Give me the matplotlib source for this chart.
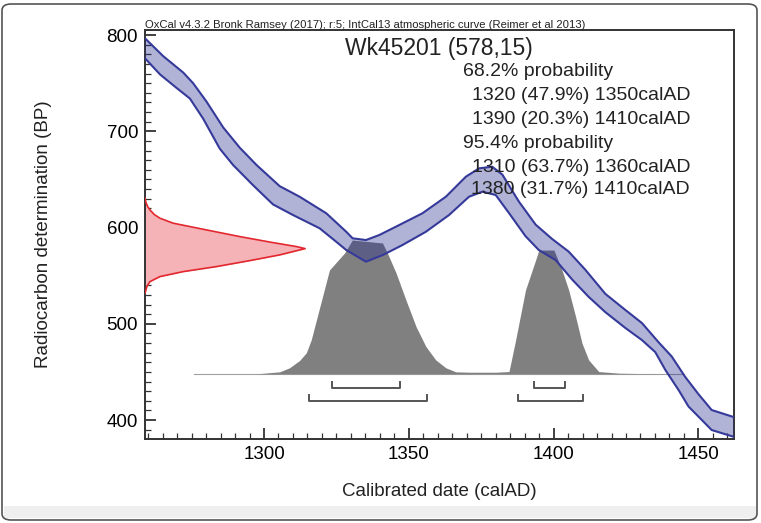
import matplotlib.pyplot as plt
from matplotlib.patches import FancyBboxPatch, Rectangle
from matplotlib.ticker import MultipleLocator

plt.rcParams['font.family'] = ['Liberation Sans', 'DejaVu Sans']

# --- data ---

# IntCal13 band, upper edge (calAD, BP)
curve_hi_yr = [1258.9, 1265.2, 1272.1, 1275.5, 1280.1, 1285.9, 1291.6, 1297.4, 1305.4, 1312.3,
               1321.5, 1328.4, 1330.6, 1335.2, 1339.8, 1346.7, 1354.7, 1362.8, 1369.7, 1374.3,
               1378.8, 1382.3, 1388.0, 1393.8, 1399.5, 1405.2, 1411.0, 1417.9, 1424.8, 1430.5,
               1436.2, 1440.8, 1445.4, 1450.0, 1454.6, 1462.3]
curve_hi_bp = [796.6, 778.0, 761.0, 750.0, 731.0, 704.0, 683.0, 665.0, 643.0, 632.0,
               614.8, 595.6, 588.8, 587.0, 592.2, 602.6, 614.8, 632.0, 652.8, 661.5,
               663.2, 655.0, 627.0, 603.0, 588.1, 575.0, 556.0, 531.0, 514.3, 500.8,
               481.0, 466.0, 445.0, 427.0, 410.4, 403.0]

# IntCal13 band, lower edge
curve_lo_yr = [1258.9, 1264.1, 1269.8, 1274.4, 1279.0, 1284.7, 1289.3, 1296.2, 1303.1, 1310.0,
               1319.2, 1324.9, 1328.4, 1335.2, 1341.0, 1347.8, 1355.9, 1363.9, 1370.8, 1375.4,
               1380.0, 1384.6, 1390.3, 1394.9, 1400.7, 1406.4, 1412.1, 1417.9, 1424.8, 1430.5,
               1435.1, 1438.6, 1443.2, 1446.6, 1451.2, 1454.6, 1462.3]
curve_lo_bp = [775.8, 759.0, 745.0, 734.0, 713.0, 682.0, 665.0, 644.0, 624.0, 613.0,
               599.2, 585.3, 576.6, 564.5, 571.4, 581.8, 595.6, 613.0, 632.0, 637.2,
               633.8, 615.0, 591.0, 576.6, 566.2, 546.0, 528.0, 512.0, 495.6, 483.1,
               470.6, 452.0, 431.0, 414.0, 400.0, 389.6, 382.5]

# measurement Wk45201 578 +/- 15 BP, relative density
meas_bp = [630.4, 626.0, 622.0, 618.3, 613.5, 609.7, 604.5, 597.5, 590.6, 584.3, 580.2, 578.1,
           571.5, 565.6, 559.4, 554.2, 549.0, 543.8, 539.0, 535.2, 531.8]
meas_dens = [0, 0.006, 0.016, 0.031, 0.058, 0.093, 0.176, 0.384, 0.591, 0.80, 0.946, 1.0,
             0.84, 0.654, 0.446, 0.239, 0.093, 0.031, 0.012, 0.006, 0]

# calibrated date, relative probability
cal_yr = [1275.7, 1297.5, 1305.4, 1308.8, 1312.3, 1314.6, 1316.3, 1322.6, 1327.8, 1330.5,
          1340.9, 1342.6, 1345.6, 1349.0, 1352.5, 1355.9, 1359.3, 1362.8, 1366.2, 1370.8,
          1380.0, 1384.6, 1386.9, 1390.3, 1393.8, 1394.9, 1400.1, 1402.9, 1405.2, 1407.6,
          1409.8, 1412.1, 1415.6, 1422.5, 1430.0, 1445.0]
cal_prob = [0, 0, 0.015, 0.045, 0.10, 0.157, 0.254, 0.776, 0.903, 1.0,
            0.978, 0.903, 0.754, 0.552, 0.353, 0.204, 0.104, 0.045, 0.015, 0.012,
            0.012, 0.017, 0.254, 0.627, 0.851, 0.925, 0.925, 0.776, 0.627, 0.428,
            0.23, 0.104, 0.017, 0.005, 0.002, 0]

range68 = [(1323.4, 1347.0), (1393.2, 1403.9)]
range95 = [(1315.4, 1356.4), (1387.7, 1410.1)]

header = 'OxCal v4.3.2 Bronk Ramsey (2017); r:5; IntCal13 atmospheric curve (Reimer et al 2013)'
sample = 'Wk45201 (578,15)'
head68 = '68.2% probability'
lines68 = ['1320 (47.9%) 1350calAD', '1390 (20.3%) 1410calAD']
head95 = '95.4% probability'
lines95 = ['1310 (63.7%) 1360calAD', '1380 (31.7%) 1410calAD']

# --- layout ---
W, H = 761, 523
XMIN, XMAX = 1258.9, 1462.3
YMIN, YMAX = 380.3, 805.2
CAL_BASE, CAL_HEIGHT = 448.0, 139.0
MEAS_WIDTH = 55.3
BR68, BR95, BR_TICK = 433.4, 420.0, 6.0


def fx(x):
    return x / W


def fy(y):
    return 1 - y / H


fig = plt.figure(figsize=(W / 100, H / 100), dpi=100)
ax = fig.add_axes([fx(145), fy(439), fx(734) - fx(145), fy(30) - fy(439)])
ax.set_xlim(XMIN, XMAX)
ax.set_ylim(YMIN, YMAX)

# red measurement density hanging off the y axis
meas_x = [XMIN + d * MEAS_WIDTH for d in meas_dens]
ax.fill_betweenx(meas_bp, XMIN, meas_x, color='#f5b3b7', lw=0, zorder=2)
ax.plot(meas_x, meas_bp, color='#e2282e', lw=1.2, zorder=3)

# calibrated distribution
cal_top = [CAL_BASE + p * CAL_HEIGHT for p in cal_prob]
ax.plot([cal_yr[0], cal_yr[-1]], [CAL_BASE, CAL_BASE], color='#a0a0a0', lw=0.8, zorder=2)
ax.fill_between(cal_yr, CAL_BASE, cal_top, color='#808080', lw=0, zorder=2)

# calibration curve band
poly_x = curve_hi_yr + curve_lo_yr[::-1]
poly_y = curve_hi_bp + curve_lo_bp[::-1]
ax.fill(poly_x, poly_y, facecolor='#1e238c', alpha=0.35, lw=0, zorder=4)
ax.plot(curve_hi_yr, curve_hi_bp, color='#353a9a', lw=1.5, zorder=5)
ax.plot(curve_lo_yr, curve_lo_bp, color='#353a9a', lw=1.5, zorder=5)

# range brackets
for level, ranges in [(BR68, range68), (BR95, range95)]:
    for a, b in ranges:
        ax.plot([a, a, b, b], [level + BR_TICK, level, level, level + BR_TICK],
                color='#555555', lw=1.4, zorder=3)

# axes styling
ax.xaxis.set_major_locator(MultipleLocator(50))
ax.xaxis.set_minor_locator(MultipleLocator(5))
ax.yaxis.set_major_locator(MultipleLocator(100))
ax.yaxis.set_minor_locator(MultipleLocator(10))
ax.tick_params(which='both', direction='in', top=False, right=False,
               color='#333333', labelsize=13.5, pad=5)
ax.tick_params(which='major', length=8, width=1.3)
ax.tick_params(which='minor', length=4, width=0.9)
for s in ax.spines.values():
    s.set_color('#333333')
    s.set_linewidth(1.4)

ax.set_xlabel('Calibrated date (calAD)', fontsize=13.5, color='#222222')
ax.xaxis.set_label_coords(0.5, (439 - 483) / 409)
ax.set_ylabel('Radiocarbon determination (BP)', fontsize=13.5, color='#222222')
ax.yaxis.set_label_coords((52 - 145) / 589, 0.5)

# texts
fig.text(fx(145), fy(28), header, fontsize=8.1, color='#222222', va='baseline')
fig.text(fx(345), fy(48), sample, fontsize=16.5, color='#222222', va='center')
fig.text(fx(463), fy(72), head68, fontsize=14, color='#222222', va='center', zorder=6)
fig.text(fx(690), fy(96), lines68[0], fontsize=14, color='#222222', va='center', ha='right', zorder=6)
fig.text(fx(690), fy(120), lines68[1], fontsize=14, color='#222222', va='center', ha='right', zorder=6)
fig.text(fx(463), fy(143), head95, fontsize=14, color='#222222', va='center', zorder=6)
fig.text(fx(690), fy(167), lines95[0], fontsize=14, color='#222222', va='center', ha='right', zorder=6)
fig.text(fx(690), fy(190), lines95[1], fontsize=14, color='#222222', va='center', ha='right', zorder=6)

# window frame around the screenshot
fig.patches.append(Rectangle((fx(4), fy(518)), fx(752), fy(506) - fy(518),
                             transform=fig.transFigure, facecolor='#efefef', lw=0, zorder=0))
fig.patches.append(FancyBboxPatch((fx(2), fy(520)), fx(755), fy(4) - fy(520),
                                  boxstyle='round,pad=0,rounding_size=0.012',
                                  transform=fig.transFigure, facecolor='none',
                                  edgecolor='#555555', lw=1.2, zorder=1))

fig.savefig('out.png', dpi=100)
